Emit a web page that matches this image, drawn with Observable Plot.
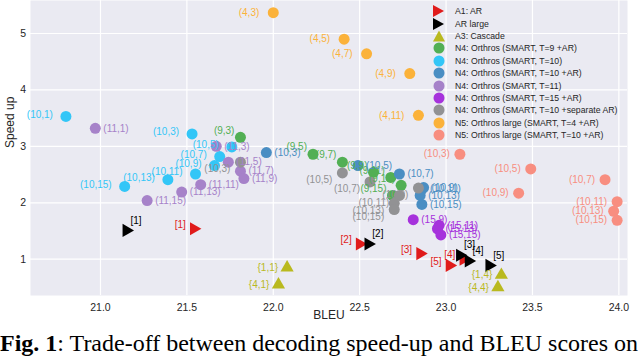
<!DOCTYPE html>
<html><head><meta charset="utf-8">
<script src="https://cdn.jsdelivr.net/npm/d3@7"></script>
<script src="https://cdn.jsdelivr.net/npm/@observablehq/plot@0.6"></script>
<style>
body{margin:0;background:#fff;}
#wrap{position:relative;width:640px;height:356px;overflow:hidden;}
#chart{position:absolute;left:0;top:0;}
#legend{position:absolute;left:429px;top:5px;font-family:"Liberation Sans",Arial,sans-serif;font-size:8.7px;color:#262626;}
.row{display:flex;align-items:center;height:12.4px;white-space:nowrap;}
.row svg{width:20px;height:12px;margin-right:6px;overflow:visible}
#caption{position:absolute;left:0;top:328px;font-family:"Liberation Serif","Times New Roman",serif;font-size:24px;white-space:nowrap;color:#000;line-height:30px;}
</style></head>
<body><div id="wrap"><div id="chart"></div><div id="legend"></div>
<div id="caption"><b>Fig. 1</b>: Trade-off between decoding speed-up and BLEU scores on</div></div>
<script>
// ---- data ----
const xTicks = [21.0, 21.5, 22.0, 22.5, 23.0, 23.5, 24.0];
const yTicks = [1, 2, 3, 4, 5];

const arLabels = ["[1]", "[2]", "[3]", "[4]", "[5]"];
const arBleu = [21.54, 22.50, 22.85, 23.10, 23.02];
const arSpeed = [1.54, 1.27, 1.10, 1.00, 0.89];

const arLargeLabels = ["[1]", "[2]", "[3]", "[4]", "[5]"];
const arLargeBleu = [21.15, 22.55, 23.08, 23.13, 23.25];
const arLargeSpeed = [1.51, 1.27, 1.07, 0.97, 0.89];

const cascadeLabels = ["{1,1}", "{4,1}", "{1,4}", "{4,4}"];
const cascadeBleu = [22.08, 22.03, 23.32, 23.30];
const cascadeSpeed = [0.85, 0.55, 0.72, 0.50];

const t9Labels = ["(9,3)", "(9,5)", "(9,7)", "(9,9)", "(9,11)", "(9,13)", "(9,15)"];
const t9Bleu = [21.81, 22.23, 22.40, 22.58, 22.68, 22.74, 22.69];
const t9Speed = [3.16, 2.86, 2.72, 2.54, 2.45, 2.31, 2.13];

const t10Labels = ["(10,1)", "(10,3)", "(10,5)", "(10,7)", "(10,9)", "(10,11)", "(10,13)", "(10,15)"];
const t10Bleu = [20.80, 21.53, 21.76, 21.69, 21.66, 21.55, 21.39, 21.14];
const t10Speed = [3.53, 3.22, 2.99, 2.82, 2.66, 2.51, 2.41, 2.29];

const t10arLabels = ["(10,3)", "(10,5)", "(10,7)", "(10,9)", "(10,11)", "(10,13)", "(10,15)"];
const t10arBleu = [21.96, 22.49, 22.73, 22.87, 22.86, 22.85, 22.86];
const t10arSpeed = [2.89, 2.66, 2.51, 2.27, 2.24, 2.13, 1.97];

const t11Labels = ["(11,1)", "(11,3)", "(11,5)", "(11,7)", "(11,9)", "(11,11)", "(11,13)", "(11,15)"];
const t11Bleu = [20.97, 21.67, 21.74, 21.81, 21.83, 21.58, 21.47, 21.27];
const t11Speed = [3.32, 3.00, 2.72, 2.56, 2.43, 2.32, 2.19, 2.04];

const t15Labels = ["(15,9)", "(15,11)", "(15,13)", "(15,15)"];
const t15Bleu = [22.81, 22.96, 22.95, 22.97];
const t15Speed = [1.70, 1.60, 1.54, 1.43];

const sepLabels = ["(10,3)", "(10,5)", "(10,7)", "(10,9)", "(10,11)", "(10,13)", "(10,15)"];
const sepBleu = [21.81, 22.40, 22.56, 22.84, 22.73, 22.70, 22.70];
const sepSpeed = [2.72, 2.53, 2.37, 2.26, 2.13, 1.99, 1.88];

const largeT4Labels = ["(4,3)", "(4,5)", "(4,7)", "(4,9)", "(4,11)"];
const largeT4Bleu = [22.00, 22.41, 22.54, 22.79, 22.84];
const largeT4Speed = [5.37, 4.90, 4.64, 4.29, 3.55];

const largeT10Labels = ["(10,3)", "(10,5)", "(10,7)", "(10,9)", "(10,11)", "(10,13)", "(10,15)"];
const largeT10Bleu = [23.08, 23.49, 23.92, 23.42, 23.99, 23.97, 23.99];
const largeT10Speed = [2.86, 2.60, 2.41, 2.17, 2.02, 1.85, 1.69];

const seriesNames = [
  "A1: AR", "AR large", "A3: Cascade",
  "N4: Orthros (SMART, T=9 +AR)", "N4: Orthros (SMART, T=10)", "N4: Orthros (SMART, T=10 +AR)",
  "N4: Orthros (SMART, T=11)", "N4: Orthros (SMART, T=15 +AR)", "N4: Orthros (SMART, T=10 +separate AR)",
  "N5: Orthros large (SMART, T=4 +AR)", "N5: Orthros large (SMART, T=10 +AR)"
];

// ---- styles (not data) ----
const styles = [
  {color: "#e01b1b", shape: "tri-right", textAnchor: "end", dx: -8, dy: -4},
  {color: "#000000", shape: "tri-right", textAnchor: "start", dx: 4, dy: -10},
  {color: "#b9b91f", shape: "tri-up", textAnchor: "end", dx: -9, dy: 0},
  {color: "#52af54", shape: "circle", textAnchor: "end", dx: -6, dy: -7},
  {color: "#33c6f7", shape: "circle", textAnchor: "end", dx: -13, dy: -2},
  {color: "#4a8ec3", shape: "circle", textAnchor: "start", dx: 8, dy: 0},
  {color: "#a682c9", shape: "circle", textAnchor: "start", dx: 8, dy: 0},
  {color: "#a632dc", shape: "circle", textAnchor: "start", dx: 8, dy: 0},
  {color: "#929294", shape: "circle", textAnchor: "end", dx: -10, dy: 7},
  {color: "#fbb23a", shape: "circle", textAnchor: "end", dx: -14, dy: 0},
  {color: "#f88e80", shape: "circle", textAnchor: "end", dx: -10, dy: 0}
];

const seriesData = [
  [arLabels, arBleu, arSpeed],
  [arLargeLabels, arLargeBleu, arLargeSpeed],
  [cascadeLabels, cascadeBleu, cascadeSpeed],
  [t9Labels, t9Bleu, t9Speed],
  [t10Labels, t10Bleu, t10Speed],
  [t10arLabels, t10arBleu, t10arSpeed],
  [t11Labels, t11Bleu, t11Speed],
  [t15Labels, t15Bleu, t15Speed],
  [sepLabels, sepBleu, sepSpeed],
  [largeT4Labels, largeT4Bleu, largeT4Speed],
  [largeT10Labels, largeT10Bleu, largeT10Speed]
];

const tables = seriesData.map(([labels, bleu, speed], i) =>
  labels.map((label, j) => ({series: seriesNames[i], label, bleu: bleu[j], speed: speed[j]})));

function dotMark(rows, st) {
  const opts = {x: "bleu", y: "speed", fill: st.color, stroke: "none"};
  if (st.shape === "tri-right") return Plot.dot(rows, {...opts, symbol: "triangle", rotate: 90, r: 4.9});
  if (st.shape === "tri-up") return Plot.dot(rows, {...opts, symbol: "triangle", r: 4.9});
  return Plot.dot(rows, {...opts, r: 5.5});
}
function textMark(rows, st) {
  return Plot.text(rows, {x: "bleu", y: "speed", text: "label", fill: st.color, textAnchor: st.textAnchor,
    dx: st.dx, dy: st.dy, fontSize: 10, fontFamily: "Liberation Sans, Arial, sans-serif"});
}

const marks = [
  Plot.frame({fill: "#eaeaf2", stroke: null}),
  Plot.ruleX(xTicks, {stroke: "#ffffff", strokeWidth: 1.2}),
  Plot.ruleY(yTicks, {stroke: "#ffffff", strokeWidth: 1.2}),
  Plot.axisX(xTicks, {tickSize: 0, tickPadding: 8, tickFormat: d3.format(".1f"), fontSize: 10.5, label: null}),
  Plot.axisY(yTicks, {tickSize: 0, tickPadding: 4.5, tickFormat: d3.format("d"), fontSize: 10.5, label: null}),
  ...tables.map((rows, i) => dotMark(rows, styles[i])),
  ...tables.map((rows, i) => textMark(rows, styles[i])),
  Plot.text(["BLEU"], {frameAnchor: "bottom", dy: 23.5, fontSize: 12, fill: "#262626"}),
  Plot.text(["Speed up"], {frameAnchor: "left", dx: -20, rotate: -90, fontSize: 12, fill: "#262626"})
];

const chart = Plot.plot({
  width: 640, height: 326,
  marginLeft: 30, marginRight: 13, marginTop: 0, marginBottom: 31,
  style: {fontFamily: "Liberation Sans, Arial, sans-serif", color: "#262626", background: "transparent", overflow: "visible"},
  x: {domain: [20.595, 24.05]},
  y: {domain: [0.357, 5.585]},
  marks
});
document.getElementById("chart").appendChild(chart);

// ---- legend ----
const legend = document.getElementById("legend");
seriesNames.forEach((name, i) => {
  const st = styles[i];
  const row = document.createElement("div");
  row.className = "row";
  let shape;
  if (st.shape === "tri-right") shape = `<polygon points="4,0 15,6 4,12" fill="${st.color}"/>`;
  else if (st.shape === "tri-up") shape = `<polygon points="10,0.5 16,11.5 4,11.5" fill="${st.color}"/>`;
  else shape = `<circle cx="10" cy="6" r="5.5" fill="${st.color}"/>`;
  row.innerHTML = `<svg viewBox="0 0 20 12">${shape}</svg><span>${name}</span>`;
  legend.appendChild(row);
});
</script>
</body></html>
